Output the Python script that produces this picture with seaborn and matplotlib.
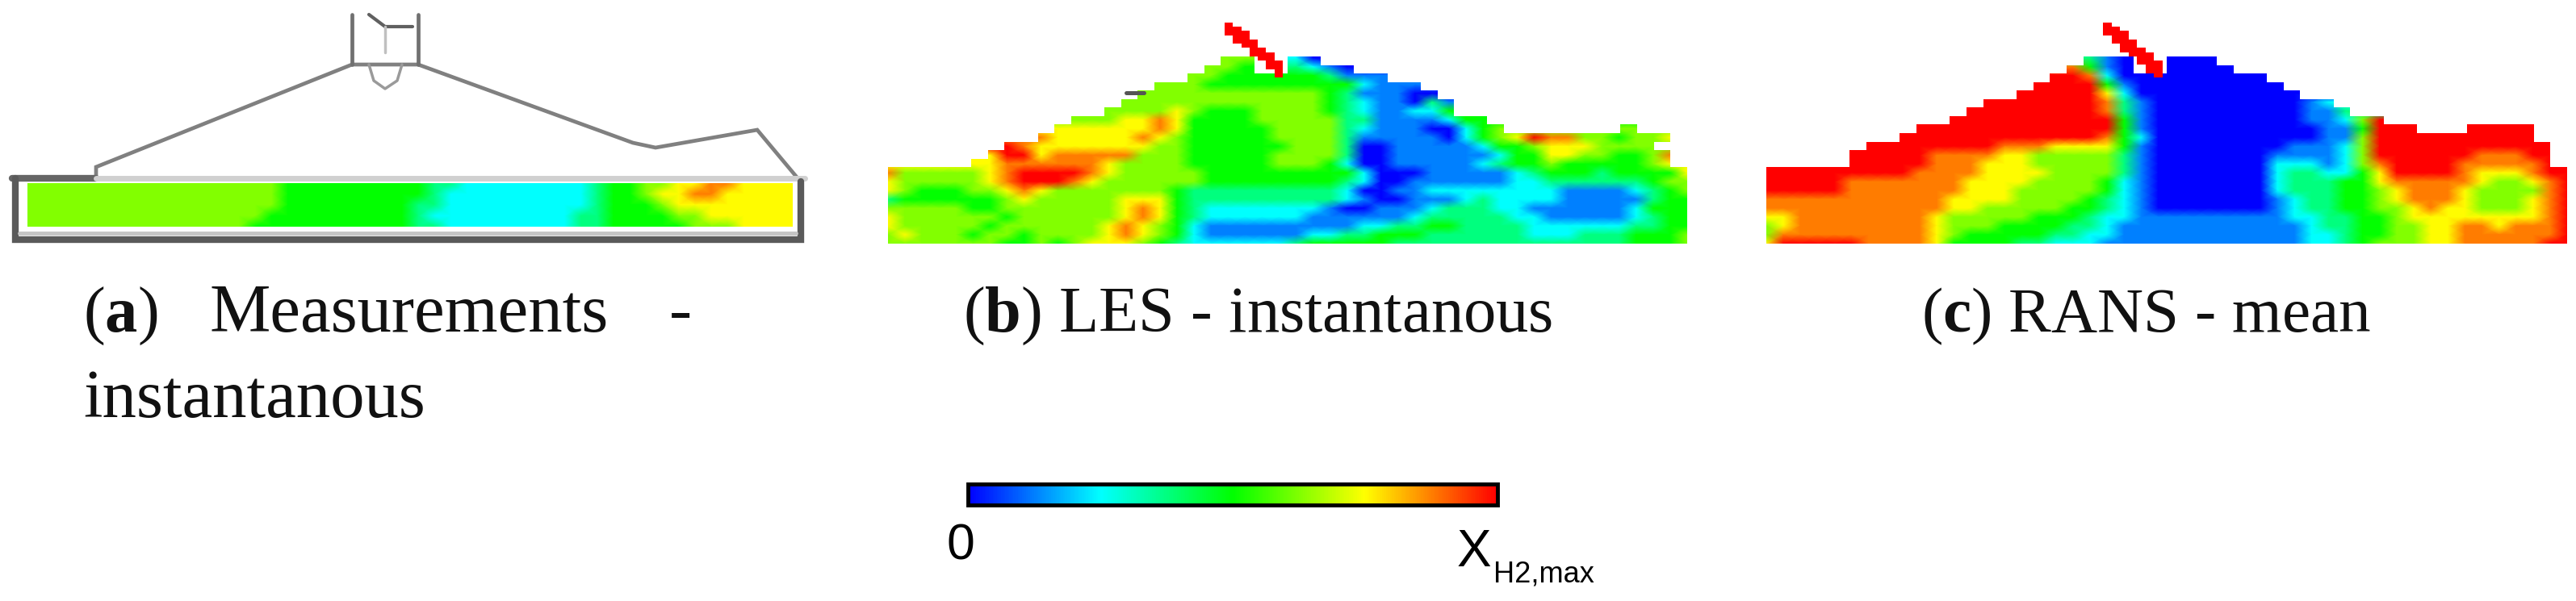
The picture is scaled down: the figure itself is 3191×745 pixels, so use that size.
import numpy as np
import seaborn as sns
import matplotlib.pyplot as plt
from matplotlib.colors import LinearSegmentedColormap, ListedColormap
from matplotlib.path import Path

# levels: 0 = 0, 8 = X_H2,max, "." = outside the chamber
LEVEL_MAX = 8

measured = [
    "555555555555555544444444433222222223445566776" + "666",
    "555555555555555544444444432222222223445667766666",
    "555555555555555544444444332222222223444566666666",
    "555555555555555444444444322222222233444455666666",
    "555555555555554444444444332222222233444445556666",
]

les = [
    "",
    "",
    "",
    "",
    "." * 20 + "55..20",
    "." * 19 + "554..3210",
    "." * 18 + "55444444311" + "1",
    "." * 16 + "55544444444" + "4" + "2111",
    "." * 15 + "55555555555" + "431110" + "0",
    "." * 14 + "555555555555" + "4321" + "1031",
    "." * 13 + "555565444555543211224",
    "." * 11 + "5556676444455555331111244",
    "." * 10 + "666666764444455553211100245" + "." * 7 + "5",
    "." * 9 + "7666667654444455553111110245687755455" + "6",
    "." * 7 + "876666666554444445553001111124456665555",
    "." * 6 + "68867777755544444555530011111124466554457",
    "." * 5 + "667777776555544444555420011111234454444456",
    "755555678888765555544444444420001111123444344446" + "5",
    "655555678887655555544444444320011111122333333455",
    "654445567655555554333333333200112222222211112345",
    "344444456555556664333333333210011123222211111344",
    "555554455555556764322222221001112333221111112444",
    "655555545555556764322222211111123333322111112344",
    "655555455555567654211111111122334433332222223344",
    "565554554555567654211111122334443333332223334445",
    "555555544545666543222222344444333333333333334445",
]

rans = [
    "",
    "",
    "",
    "",
    "." * 19 + "310..000",
    "." * 18 + "7410..0000",
    "." * 17 + "8872000000000",
    "." * 16 + "888841000000000",
    "." * 15 + "8888862" + "0" * 10,
    "." * 13 + "8888888731" + "0" * 9 + "12",
    "." * 12 + "88888888731" + "0" * 9 + "113",
    "." * 11 + "8" * 10 + "41" + "0" * 9 + "11258",
    "." * 9 + "8" * 12 + "41" + "0" * 10 + "114888...8888",
    "." * 8 + "8" * 12 + "742" + "0" * 10 + "115" + "8" * 10,
    "." * 6 + "8" * 8 + "7776666" + "41" + "0" * 8 + "11125" + "8" * 11,
    "." * 5 + "88888" + "7777" + "66" + "55555" + "31" + "0" * 7 + "111125" + "888888" + "777" + "88",
    "." * 5 + "88888" + "777" + "666" + "55555" + "31" + "0" * 7 + "222125" + "7" + "8888" + "77777" + "8",
    "8" * 9 + "7777" + "6666" + "5555" + "31" + "0" * 7 + "233224" + "6" + "8888" + "7" + "666" + "7" + "88",
    "88888" + "7" * 7 + "6666" + "5555" + "421" + "0" * 7 + "233344" + "6" + "77777" + "655678",
    "88888" + "7" * 7 + "666" + "55555" + "421" + "0" * 7 + "233344" + "567776555578",
    "7" * 11 + "6666" + "5555" + "4321" + "0" * 7 + "123344" + "567776555678",
    "7" * 11 + "66" + "55555" + "44321" + "0" * 7 + "123344" + "556766555678",
    "66" + "7" * 8 + "655555" + "444" + "322" + "1" * 9 + "22334" + "456666666678",
    "56" + "7" * 8 + "6555" + "4444" + "33" + "2" + "1" * 11 + "2334" + "455667767778",
    "5" + "7" * 9 + "65" + "44444" + "33" + "22" + "1" * 11 + "2234" + "455667777778",
    "6" + "88888" + "7777" + "6" + "4444" + "33" + "222" + "1" + "1" * 11 + "2234" + "555667777788",
]

# the hydrogen jet leaving the injector, always at full level
les_jet = [
    "8......", "88.....", "888....", ".88....", ".888...", "..88...", "...88..",
    "...888.", "....88.", ".....88", ".....88", "......8", "......8",
]
rans_jet = [
    "8......", "88.....", "888....", ".88....", ".888...", "..88...", "..888..",
    "...888.", "....88.", "....888", ".....88", ".....88", "......8",
]

# chamber outline of the measurement sketch, in picture pixels
roof_x = [119, 119, 436, 518, 784, 812, 938, 989]
roof_y = [220, 207, 80, 80, 177, 183, 161, 222]
port_left_x, port_right_x = 436, 518
port_top_y, port_bottom_y = 18, 80

caption_a1 = "Measurements"
caption_a2 = "instantanous"
caption_b = "LES - instantanous"
caption_c = "RANS - mean"

W, H = 3191, 745

sns.set_theme(style="white")
plt.rcParams["font.family"] = ["Liberation Serif", "DejaVu Serif"]
plt.rcParams["mathtext.fontset"] = "custom"
plt.rcParams["mathtext.bf"] = "Liberation Serif:bold"

rainbow = LinearSegmentedColormap.from_list(
    "xh2", ["#0000ff", "#00ffff", "#00ff00", "#ffff00", "#ff0000"], N=256
)


def parse(rows, ncols=48):
    out = []
    for r in rows:
        r = r.ljust(ncols, ".")[:ncols]
        out.append([np.nan if ch == "." else float(ch) for ch in r])
    return np.array(out)


def box(x0, y0, x1, y1):
    return [x0 / W, 1 - y1 / H, (x1 - x0) / W, (y1 - y0) / H]


def draw_field(ax, rows, **kws):
    grid = parse(rows)
    nrows, ncols = grid.shape
    inside = ~np.isnan(grid)

    # cells outside the chamber only carry the colour up to the clipped edge
    shown = grid.copy()
    for i in range(nrows - 1, -1, -1):
        good = np.where(inside[i])[0]
        if good.size == 0:
            shown[i] = shown[i + 1]
            continue
        for j in np.where(~inside[i])[0]:
            shown[i, j] = grid[i, good[np.argmin(np.abs(good - j))]]

    sns.heatmap(shown, cmap=rainbow, vmin=0, vmax=LEVEL_MAX, shading="gouraud",
                xticklabels=False, yticklabels=False, ax=ax, **kws)
    ax.set_xlim(0, ncols - 1)
    ax.set_ylim(nrows - 1, 0)

    # stair-stepped edge of the chamber
    sx, sy = (ncols - 1) / ncols, (nrows - 1) / nrows
    parts = []
    for i, j in zip(*np.where(inside)):
        x0, x1, y0, y1 = j * sx, (j + 1) * sx, i * sy, (i + 1) * sy
        parts.append(Path([(x0, y0), (x1, y0), (x1, y1), (x0, y1), (x0, y0)], closed=True))
    ax.collections[0].set_clip_path(Path.make_compound_path(*parts), ax.transData)
    return ax.collections[0]


def draw_jet(rect, rows):
    ax = fig.add_axes(box(*rect), facecolor="none")
    sns.heatmap(parse(rows, ncols=7), cmap=ListedColormap(["#ff0000"]), cbar=False,
                xticklabels=False, yticklabels=False, ax=ax)


fig = plt.figure(figsize=(W / 100, H / 100), dpi=100)

ax_a = fig.add_axes(box(34, 227, 982, 281))
draw_field(ax_a, measured, cbar=False)

ax_b = fig.add_axes(box(1100, 28, 2090, 302))
draw_field(ax_b, les, cbar=False)
draw_jet((1517, 28, 1589, 96), les_jet)

ax_c = fig.add_axes(box(2188, 28, 3180, 302))
cax = fig.add_axes(box(1199, 600, 1855, 626))
mesh = draw_field(ax_c, rans, cbar=True, cbar_ax=cax,
                  cbar_kws={"orientation": "horizontal", "ticks": []})
mesh.colorbar.outline.set_edgecolor("black")
mesh.colorbar.outline.set_linewidth(3.5)
draw_jet((2605, 28, 2679, 96), rans_jet)

# overlay in picture pixels for the sketch lines and the captions
over = fig.add_axes([0, 0, 1, 1], facecolor="none")
over.set_xlim(0, W)
over.set_ylim(H, 0)
over.axis("off")

grey = "#808080"
over.plot(roof_x, roof_y, color=grey, lw=3.4, solid_joinstyle="miter")
over.plot([port_left_x, port_left_x], [port_bottom_y, port_top_y], color="#707070", lw=3.4)
over.plot([port_right_x, port_right_x], [port_bottom_y, port_top_y], color="#707070", lw=3.4)
over.plot([457, 477, 511], [18, 33, 33], color="#606060", lw=3)
over.plot([477, 477], [33, 65], color="#c0c0c0", lw=2.5)
over.plot([457, 463, 477, 492, 498], [80, 100, 110, 100, 80], color="#9a9a9a", lw=2.5)
over.plot([15, 119], [221, 221], color="#666666", lw=6)
over.plot([119, 997], [221, 221], color="#d0d0d0", lw=5)
over.plot([19, 19, 992, 992], [221, 297, 297, 225], color="#5a5a5a", lw=6, solid_joinstyle="miter")
over.plot([24, 986], [289, 289], color="#c4c4c4", lw=3.5)
over.plot([1395, 1417], [114.5, 114.5], color="#555555", lw=3.6)

ink = "#111111"
over.text(103, 411, r"($\mathbf{a}$)", fontsize=58, ha="left", va="baseline", color=ink)
over.text(260, 411, caption_a1, fontsize=61, ha="left", va="baseline", color=ink)
over.text(829, 411, "-", fontsize=61, ha="left", va="baseline", color=ink)
over.text(103, 517, caption_a2, fontsize=61, ha="left", va="baseline", color=ink)
over.text(1193, 411, r"($\mathbf{b}$) " + caption_b, fontsize=58, ha="left", va="baseline", color=ink)
over.text(2380, 411, r"($\mathbf{c}$) " + caption_c, fontsize=57, ha="left", va="baseline", color=ink)

sans = ["Liberation Sans", "DejaVu Sans"]
over.text(1190, 693, "0", fontsize=45, family=sans, ha="center", va="baseline", color="black")
over.text(1826, 702, "X", fontsize=46, family=sans, ha="center", va="baseline", color="black")
over.text(1850, 722, "H2,max", fontsize=26, family=sans, ha="left", va="baseline", color="black")

fig.savefig("out.png", dpi=100)
